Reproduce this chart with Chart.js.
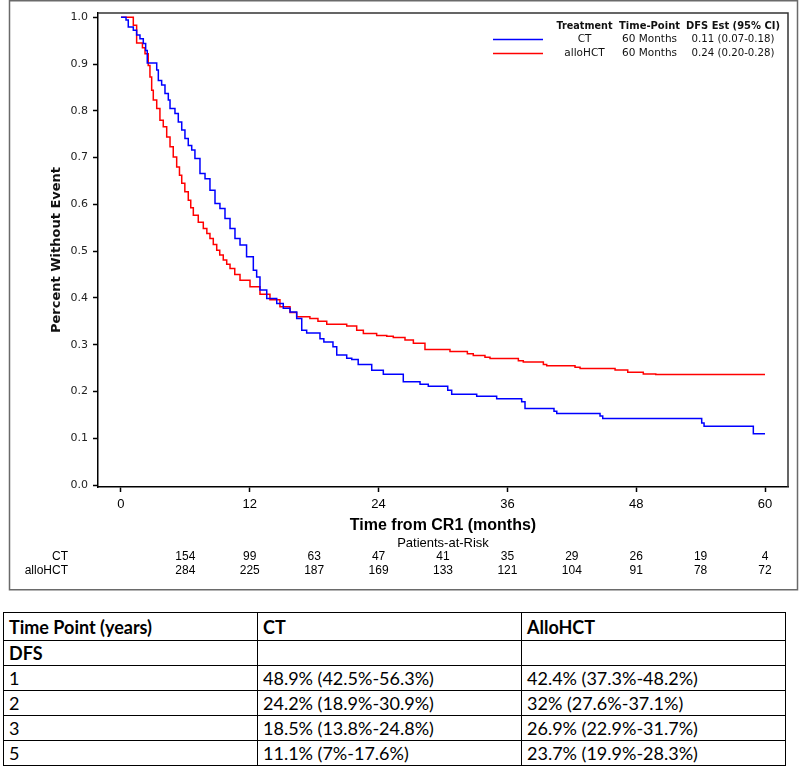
<!DOCTYPE html>
<html>
<head>
<meta charset="utf-8">
<script src="https://cdn.jsdelivr.net/npm/chart.js@4.4.1/dist/chart.umd.min.js"></script>
<style>
  body { margin: 0; background: #fff; width: 800px; height: 769px; overflow: hidden; position: relative; }
  #wrap { position: absolute; left: 0; top: 0; width: 800px; height: 600px; }
  #dfs { position: absolute; left: 3px; top: 612px; width: 782px; border-collapse: collapse;
         font-family: Lato, "Open Sans", sans-serif; font-size: 18px; color: #000; table-layout: fixed; }
  #dfs td { border: 1px solid #000; padding: 0 5px; height: 24px; white-space: nowrap; line-height: 20px; }
  #dfs tr.head td { font-weight: bold; height: 27px; }
  #dfs tr.sub td { font-weight: bold; }
</style>
</head>
<body>
<div id="wrap"><canvas id="km" width="800" height="600"></canvas></div>
<table id="dfs">
  <colgroup><col style="width:254px"><col style="width:264px"><col style="width:264px"></colgroup>
  <tbody id="dfsBody"></tbody>
</table>
<script>
// Kaplan-Meier DFS curves (months, proportion without event)
const ctMonths = [0, 0.47, 0.68, 1.15, 1.46, 1.77, 2.08, 2.30, 2.45, 3.33, 3.48, 3.79, 4.10, 4.41, 4.57, 5.03, 5.34, 5.66, 5.96,
  6.27, 6.59, 6.89, 7.36, 7.83, 8.29, 8.76, 9.22, 9.69, 10.16, 10.62, 11.09, 11.7, 12.33, 12.64, 12.95, 13.58, 14.51, 15.12, 15.75,
  16.37, 16.84, 17.30, 18.54, 18.9, 19.75, 20.1, 21.03, 21.5, 22.1, 23.36, 24.44, 26.3, 27.86, 28.63, 30.44, 30.81, 33.14, 35.0, 37.33,
  37.64, 40.34, 40.6, 44.63, 44.88, 54.1, 54.32, 58.91, 60];
const ctSurv = [1.0, 0.994, 0.979, 0.972, 0.962, 0.954, 0.944, 0.929, 0.902, 0.887, 0.865, 0.855, 0.837, 0.823, 0.805, 0.794, 0.776, 0.759, 0.741,
  0.726, 0.716, 0.698, 0.666, 0.655, 0.630, 0.602, 0.591, 0.570, 0.5485, 0.527, 0.513, 0.488, 0.459, 0.445, 0.417, 0.399, 0.388, 0.378, 0.370,
  0.356, 0.331, 0.325, 0.313, 0.306, 0.2955, 0.278, 0.271, 0.2686, 0.258, 0.2457, 0.237, 0.221, 0.2158, 0.2115, 0.203, 0.1944, 0.19, 0.1845, 0.178,
  0.164, 0.158, 0.153, 0.1475, 0.1425, 0.133, 0.126, 0.110, 0.110];

const hctMonths = [0, 1.15, 1.46, 2.0, 2.24, 2.54, 2.70, 2.86, 3.01, 3.33, 3.63, 3.94, 4.26, 4.57, 4.87, 5.19, 5.45, 5.66, 5.95, 6.27, 6.5, 6.74, 7.2, 7.67, 8.0, 8.29,
  8.6, 8.92, 9.2, 9.53, 9.85, 10.16, 10.6, 11.09, 12.02, 12.95, 13.88, 14.81, 15.75, 16.37, 17.6, 18.35, 19.17, 21.03, 21.96, 22.58, 23.82, 24.76, 25.37, 26.46,
  27.24, 28.32, 30.65, 32.27, 32.82, 33.91, 34.38, 37.02, 37.48, 39.35, 39.66, 42.30, 42.77, 46.03, 47.21, 48.66, 49.82, 60];
const hctSurv = [1.0, 0.983, 0.945, 0.935, 0.922, 0.897, 0.872, 0.844, 0.823, 0.805, 0.780, 0.766, 0.744, 0.723, 0.701, 0.680, 0.662, 0.645, 0.627, 0.609, 0.593, 0.577, 0.562, 0.5485, 0.538, 0.527,
  0.514, 0.502, 0.492, 0.481, 0.472, 0.463, 0.45, 0.438, 0.424, 0.408, 0.396, 0.381, 0.369, 0.360, 0.356, 0.350, 0.344, 0.340, 0.331, 0.324, 0.320, 0.318, 0.3156, 0.310,
  0.303, 0.290, 0.2857, 0.2806, 0.277, 0.2735, 0.2707, 0.2657, 0.263, 0.258, 0.255, 0.252, 0.249, 0.246, 0.241, 0.2375, 0.2365, 0.2365];

const xTicks = [0, 12, 24, 36, 48, 60];
const yTicks = [0, 0.1, 0.2, 0.3, 0.4, 0.5, 0.6, 0.7, 0.8, 0.9, 1.0];

// patients at risk
const riskMonths = [6, 12, 18, 24, 30, 36, 42, 48, 54, 60];
const ctRisk = [154, 99, 63, 47, 41, 35, 29, 26, 19, 4];
const hctRisk = [284, 225, 187, 169, 133, 121, 104, 91, 78, 72];

// inset legend table
const legendHead = ['Treatment', 'Time-Point', 'DFS Est (95% CI)'];
const treatments = ['CT', 'alloHCT'];
const timePoints = ['60 Months', '60 Months'];
const dfsEst = ['0.11 (0.07-0.18)', '0.24 (0.20-0.28)'];

// DFS table under the chart
const tableHead = ['Time Point (years)', 'CT', 'AlloHCT'];
const tableYears = ['1', '2', '3', '5'];
const ctDfs = ['48.9% (42.5%-56.3%)', '24.2% (18.9%-30.9%)', '18.5% (13.8%-24.8%)', '11.1% (7%-17.6%)'];
const hctDfs = ['42.4% (37.3%-48.2%)', '32% (27.6%-37.1%)', '26.9% (22.9%-31.7%)', '23.7% (19.9%-28.3%)'];

const BLUE = '#0000ff';
const RED = '#ff0000';

// build the html table
const body = document.getElementById('dfsBody');
function addRow(cells, cls) {
  const tr = document.createElement('tr');
  if (cls) tr.className = cls;
  cells.forEach(c => { const td = document.createElement('td'); td.textContent = c; tr.appendChild(td); });
  body.appendChild(tr);
}
addRow(tableHead, 'head');
addRow(['DFS', '', ''], 'sub');
tableYears.forEach((y, i) => addRow([y, ctDfs[i], hctDfs[i]]));

const extras = {
  id: 'extras',
  afterDraw(chart) {
    const ctx = chart.ctx;
    const a = chart.chartArea;
    const xs = chart.scales.x;
    ctx.save();

    // outer graph border
    ctx.strokeStyle = '#6a6a6a';
    ctx.lineWidth = 1.5;
    ctx.strokeRect(9.5, 0.75, 788, 589);

    // wall frame (top and right)
    ctx.strokeStyle = '#333';
    ctx.lineWidth = 1.5;
    ctx.beginPath();
    ctx.moveTo(a.left, a.top);
    ctx.lineTo(a.right, a.top);
    ctx.lineTo(a.right, a.bottom);
    ctx.stroke();

    // inset legend
    const cols = [584.5, 649.5, 733];
    const widths = [56, 61, 94];
    ctx.fillStyle = '#111';
    ctx.textAlign = 'center';
    ctx.textBaseline = 'middle';
    ctx.font = 'bold 11px "DejaVu Sans"';
    legendHead.forEach((t, i) => ctx.fillText(t, cols[i], 26, widths[i]));
    ctx.font = '10.5px "DejaVu Sans"';
    const colors = [BLUE, RED];
    treatments.forEach((t, i) => {
      const y = 39.5 + i * 14;
      ctx.strokeStyle = colors[i];
      ctx.lineWidth = 1.5;
      ctx.beginPath();
      ctx.moveTo(493, y);
      ctx.lineTo(543, y);
      ctx.stroke();
      ctx.fillText(t, cols[0], y);
      ctx.fillText(timePoints[i], cols[1], y);
      ctx.fillText(dfsEst[i], cols[2], y, 83);
    });

    // patients at risk
    ctx.fillStyle = '#000';
    ctx.font = '13px "Liberation Sans", Arial, sans-serif';
    ctx.textAlign = 'center';
    ctx.fillText('Patients-at-Risk', (a.left + a.right) / 2, 543);
    ctx.font = '12px "Liberation Sans", Arial, sans-serif';
    ctx.textAlign = 'right';
    ctx.fillText(treatments[0], 68, 557);
    ctx.fillText(treatments[1], 68, 571);
    ctx.textAlign = 'center';
    riskMonths.forEach((m, i) => {
      const px = xs.getPixelForValue(m);
      ctx.fillText(String(ctRisk[i]), px, 557);
      ctx.fillText(String(hctRisk[i]), px, 571);
    });
    ctx.restore();
  }
};

new Chart(document.getElementById('km'), {
  type: 'line',
  data: {
    datasets: [
      { label: 'CT', data: ctMonths.map((m, i) => ({ x: m, y: ctSurv[i] })),
        borderColor: BLUE, borderWidth: 1.5, stepped: 'before', pointRadius: 0, fill: false },
      { label: 'alloHCT', data: hctMonths.map((m, i) => ({ x: m, y: hctSurv[i] })),
        borderColor: RED, borderWidth: 1.5, stepped: 'before', pointRadius: 0, fill: false }
    ]
  },
  options: {
    responsive: false,
    animation: false,
    layout: { padding: { left: 9, top: 13, right: 12, bottom: 0 } },
    plugins: { legend: { display: false }, tooltip: { enabled: false } },
    scales: {
      x: {
        type: 'linear', min: -2.14, max: 62.14,
        afterBuildTicks: s => { s.ticks = xTicks.map(v => ({ value: v })); },
        afterFit: s => { s.height = 113; },
        grid: { drawOnChartArea: false, drawTicks: true, tickLength: 5, tickWidth: 1.5, tickColor: '#000' },
        border: { display: true, color: '#000', width: 1.5 },
        ticks: { color: '#000', font: { family: '"Liberation Sans", Arial, sans-serif', size: 13 }, padding: 5,
                 maxRotation: 0, autoSkip: false },
        title: { display: true, text: 'Time from CR1 (months)', color: '#000',
                 font: { family: '"Liberation Sans", Arial, sans-serif', size: 16, weight: 'bold' },
                 padding: { top: 0, bottom: 65 } }
      },
      y: {
        min: -0.004, max: 1.009,
        afterBuildTicks: s => { s.ticks = yTicks.map(v => ({ value: v })); },
        afterFit: s => { s.width = 89; },
        grid: { drawOnChartArea: false, drawTicks: true, tickLength: 5, tickWidth: 1.5, tickColor: '#000' },
        border: { display: true, color: '#000', width: 1.5 },
        ticks: { color: '#222', font: { family: '"DejaVu Sans"', size: 11 }, padding: 5,
                 callback: v => Number(v).toFixed(1) },
        title: { display: true, text: 'Percent Without Event', color: '#111',
                 font: { family: '"DejaVu Sans"', size: 13, weight: 'bold' },
                 padding: { top: 40, bottom: 0 } }
      }
    }
  },
  plugins: [extras]
});
</script>
</body>
</html>
